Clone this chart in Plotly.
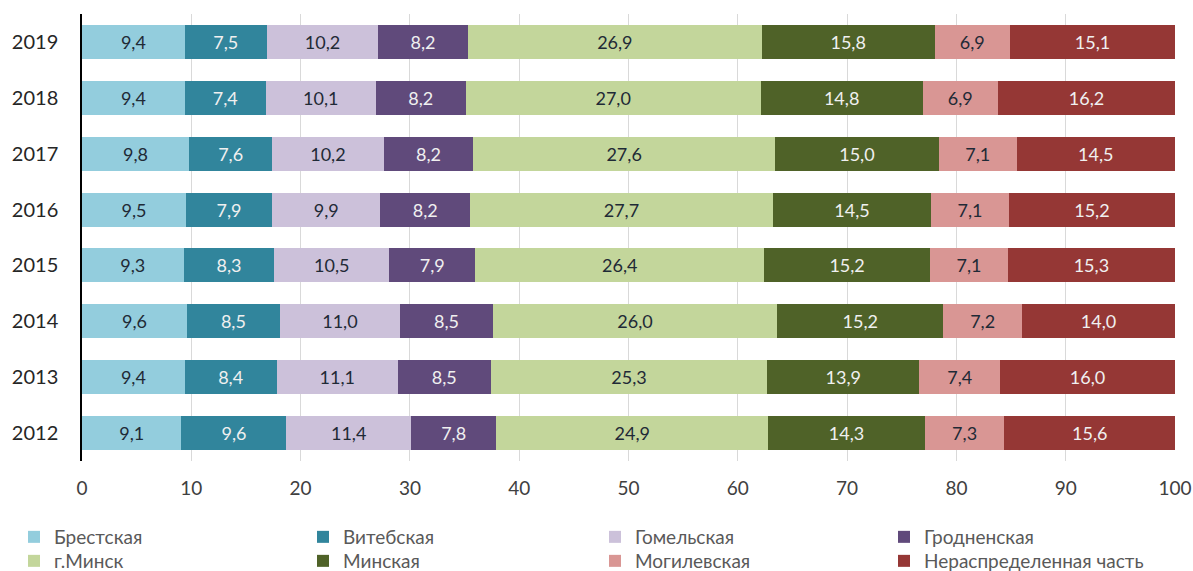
import plotly.graph_objects as go

years = ["2012", "2013", "2014", "2015", "2016", "2017", "2018", "2019"]
series_names = ["Брестская", "Витебская", "Гомельская", "Гродненская",
                "г.Минск", "Минская", "Могилевская", "Нераспределенная часть"]

brest = [9.1, 9.4, 9.6, 9.3, 9.5, 9.8, 9.4, 9.4]
vitebsk = [9.6, 8.4, 8.5, 8.3, 7.9, 7.6, 7.4, 7.5]
gomel = [11.4, 11.1, 11.0, 10.5, 9.9, 10.2, 10.1, 10.2]
grodno = [7.8, 8.5, 8.5, 7.9, 8.2, 8.2, 8.2, 8.2]
minsk_city = [24.9, 25.3, 26.0, 26.4, 27.7, 27.6, 27.0, 26.9]
minsk_reg = [14.3, 13.9, 15.2, 15.2, 14.5, 15.0, 14.8, 15.8]
mogilev = [7.3, 7.4, 7.2, 7.1, 7.1, 7.1, 6.9, 6.9]
unallocated = [15.6, 16.0, 14.0, 15.3, 15.2, 14.5, 16.2, 15.1]

values = [brest, vitebsk, gomel, grodno, minsk_city, minsk_reg, mogilev, unallocated]
colors = ["#93CDDD", "#31859C", "#CCC1DA", "#604A7B",
          "#C3D69B", "#4F6228", "#D99694", "#953735"]
text_colors = ["#1F2A36", "#F0F0F0", "#1F2A36", "#F0F0F0",
               "#1F2A36", "#F0F0F0", "#1F2A36", "#F0F0F0"]

FONT = "Lato"
W, H = 1193, 571

# legend grid: 4 columns x 2 rows (pixel anchors in the page)
legend_cols = [14, 303, 595, 884]
legend_rows = [537, 561]

fig = go.Figure()
legend_layouts = {}
for i, (name, vals, col, tcol) in enumerate(zip(series_names, values, colors, text_colors)):
    key = "legend" if i == 0 else f"legend{i + 1}"
    fig.add_trace(go.Bar(
        y=years, x=vals, name=name, orientation="h",
        marker=dict(color=col, line=dict(width=0)),
        text=[f"{v:.1f}".replace(".", ",") for v in vals],
        textposition="inside", insidetextanchor="middle",
        textfont=dict(family=FONT, size=18, color=tcol),
        textangle=0, constraintext="none",
        hoverinfo="skip",
        legend=key, showlegend=True,
    ))
    legend_layouts[key] = dict(
        orientation="v", visible=True,
        xref="container", yref="container",
        x=legend_cols[i % 4] / W, y=1 - legend_rows[i // 4] / H,
        xanchor="left", yanchor="middle",
        font=dict(family=FONT, size=19, color="#595959"),
        bgcolor="rgba(0,0,0,0)", borderwidth=0,
    )

fig.update_layout(
    showlegend=True,
    barmode="stack",
    bargap=0.39,
    width=W, height=H,
    margin=dict(l=82, r=18, t=14, b=110, autoexpand=False),
    paper_bgcolor="white", plot_bgcolor="white",
    font=dict(family=FONT, size=18, color="#333333"),
    xaxis=dict(
        range=[0, 100], dtick=10, tick0=0,
        showgrid=True, gridcolor="#D9D9D9", gridwidth=1,
        zeroline=False, showline=False, ticks="",
        tickfont=dict(family=FONT, size=19, color="#404040"),
        ticklabelstandoff=14, automargin=False,
    ),
    yaxis=dict(
        type="category", categoryorder="array", categoryarray=years,
        showline=True, linecolor="#000000", linewidth=1.5,
        showgrid=False, ticks="",
        tickfont=dict(family=FONT, size=20, color="#262626"),
        ticklabelstandoff=18, automargin=False,
    ),
    **legend_layouts,
)

fig.write_html("out.html", config={"displayModeBar": False},
               post_script="document.body.style.margin='0';")
